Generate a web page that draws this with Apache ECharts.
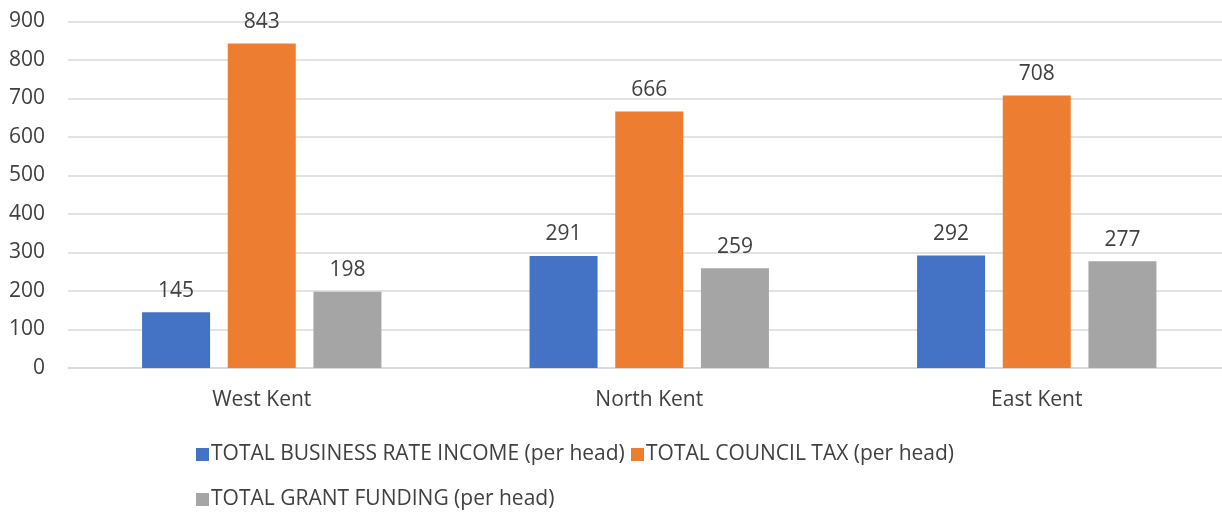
<!DOCTYPE html>
<html><head><meta charset="utf-8">
<script src="https://cdn.jsdelivr.net/npm/echarts@6/dist/echarts.min.js"></script>
<style>html,body{margin:0;padding:0;background:#fff;overflow:hidden}#c{width:1222px;height:513px}</style>
</head><body><div id="c"></div>
<script>
var categories = ['West Kent', 'North Kent', 'East Kent'];
var seriesNames = ['TOTAL BUSINESS RATE INCOME (per head)', 'TOTAL COUNCIL TAX (per head)', 'TOTAL GRANT FUNDING (per head)'];
var businessRate = [145, 291, 292];
var councilTax = [843, 666, 708];
var grantFunding = [198, 259, 277];
var yTicks = [0, 100, 200, 300, 400, 500, 600, 700, 800, 900];
var colors = ['#4472C4', '#ED7D31', '#A5A5A5'];
var FONT = '"Open Sans", sans-serif';
var FS = 21;
var values = [businessRate, councilTax, grantFunding];
var chart = echarts.init(document.getElementById('c'));
function leg(name, left, top) {
  return {data: [name], left: left, top: top, itemWidth: 13, itemHeight: 13, icon: 'rect', itemGap: 0,
    padding: 0, textStyle: {fontFamily: FONT, fontSize: FS, color: '#404040', padding: [0, 0, 0, -3]}};
}
chart.setOption({
  animation: false,
  color: colors,
  textStyle: {fontFamily: FONT},
  grid: {left: 68, width: 1162.5, top: 21.5, bottom: 145, outerBoundsMode: 'none', containLabel: false},
  legend: [leg(seriesNames[0], 196, 444), leg(seriesNames[1], 631, 444), leg(seriesNames[2], 196, 489)],
  xAxis: {type: 'category', data: categories,
    axisLine: {lineStyle: {color: '#D9D9D9', width: 1.5}}, axisTick: {show: false},
    axisLabel: {fontFamily: FONT, fontSize: FS, color: '#404040', margin: 22}},
  yAxis: {type: 'value', min: yTicks[0], max: yTicks[yTicks.length - 1], interval: 100,
    axisLine: {show: false}, axisTick: {show: false},
    splitLine: {lineStyle: {color: '#D9D9D9', width: 1.5}},
    axisLabel: {fontFamily: FONT, fontSize: FS, color: '#404040', margin: 23}},
  series: seriesNames.map(function (n, i) {
    return {name: n, type: 'bar', data: values[i], barWidth: 68, barGap: '26%',
      itemStyle: {color: colors[i]},
      label: {show: true, position: 'top', distance: 11, fontFamily: FONT, fontSize: FS, color: '#404040'}};
  })
});
</script></body></html>
